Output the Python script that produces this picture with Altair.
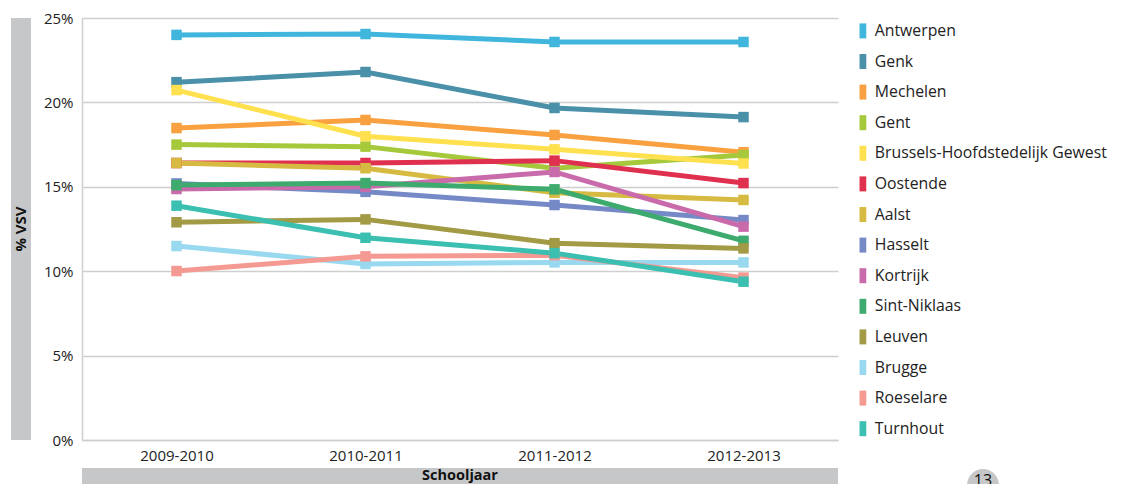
import altair as alt
import pandas as pd

years = ["2009-2010", "2010-2011", "2011-2012", "2012-2013"]
cities = ["Antwerpen", "Genk", "Mechelen", "Gent", "Brussels-Hoofdstedelijk Gewest",
          "Oostende", "Aalst", "Hasselt", "Kortrijk", "Sint-Niklaas", "Leuven",
          "Brugge", "Roeselare", "Turnhout"]
colors = ["#41B6DC", "#4A90A8", "#F9A040", "#A5C93A", "#FFE04F",
          "#E0304F", "#D6BA42", "#7489C6", "#C96BAB", "#3DAA6E", "#A39A45",
          "#98D9F0", "#F59A92", "#3ABFB0"]

antwerpen = [24.0, 24.05, 23.58, 23.58]
genk = [21.2, 21.8, 19.67, 19.13]
mechelen = [18.48, 18.96, 18.07, 17.05]
gent = [17.5, 17.38, 16.1, 16.88]
brussel = [20.73, 18.0, 17.22, 16.38]
oostende = [16.41, 16.41, 16.55, 15.22]
aalst = [16.41, 16.1, 14.65, 14.22]
hasselt = [15.2, 14.7, 13.92, 13.03]
kortrijk = [14.87, 15.0, 15.88, 12.64]
sintniklaas = [15.1, 15.22, 14.85, 11.8]
leuven = [12.9, 13.07, 11.66, 11.35]
brugge = [11.49, 10.43, 10.52, 10.52]
roeselare = [10.01, 10.88, 10.95, 9.62]
turnhout = [13.88, 11.98, 11.07, 9.38]

series = [antwerpen, genk, mechelen, gent, brussel, oostende, aalst, hasselt,
          kortrijk, sintniklaas, leuven, brugge, roeselare, turnhout]
y_ticks = [0, 5, 10, 15, 20, 25]

rows = []
for i, (c, vals) in enumerate(zip(cities, series)):
    for yr, v in zip(years, vals):
        rows.append({"Stad": c, "Schooljaar": yr, "VSV": v, "idx": i})
df = pd.DataFrame(rows)

W, H = 756, 422
FONT = "Open Sans"
GRAY = "#C6C7C9"

x_enc = alt.X("Schooljaar:O", sort=years,
              scale=alt.Scale(type="point", padding=0.5),
              axis=alt.Axis(title=None, labelAngle=0, labelFontSize=15, labelFont=FONT,
                            labelColor="#222", ticks=False, labelPadding=8,
                            domainColor="#cfcfcf", domainWidth=1.5))
y_enc = alt.Y("VSV:Q", scale=alt.Scale(domain=[0, 25], nice=False),
              axis=alt.Axis(title=None, values=y_ticks, labelExpr="datum.value + '%'",
                            labelFontSize=15, labelFont=FONT, labelColor="#222",
                            ticks=False, labelPadding=9, gridColor="#cfcfcf",
                            gridWidth=1.5, domainColor="#cfcfcf", domainWidth=1.5))
color_scale = alt.Scale(domain=cities, range=colors)
legend = alt.Legend(title=None, orient="none", legendX=773, legendY=5,
                    symbolType="M-0.45,-1L0.45,-1L0.45,1L-0.45,1Z",
                    symbolSize=225, symbolStrokeWidth=0, symbolOpacity=1,
                    labelFontSize=15.8, labelFont=FONT, labelColor="#222",
                    labelOffset=4, rowPadding=13.6, padding=0, labelLimit=400)

base = alt.Chart(df)
lines = base.mark_line(strokeWidth=5).encode(
    x=x_enc, y=y_enc,
    color=alt.Color("Stad:N", scale=color_scale, sort=cities, legend=legend),
    order=alt.Order("Schooljaar:O"),
)
points = base.mark_point(shape="square", filled=True, size=110, opacity=1).encode(
    x=x_enc, y=y_enc,
    color=alt.Color("Stad:N", scale=color_scale, sort=cities, legend=legend),
)

one = pd.DataFrame({"a": [0]})
ybar = alt.Chart(one).mark_rect(color=GRAY).encode(
    x=alt.value(-71), x2=alt.value(-51), y=alt.value(0), y2=alt.value(H))
ytitle = alt.Chart(pd.DataFrame({"t": ["% VSV"]})).mark_text(
    angle=270, font=FONT, fontSize=15, fontWeight="bold", color="#111",
    align="center", baseline="middle").encode(
    text="t:N", x=alt.value(-61), y=alt.value(H / 2))
xbar = alt.Chart(one).mark_rect(color=GRAY).encode(
    x=alt.value(0), x2=alt.value(W), y=alt.value(450), y2=alt.value(470))
xtitle = alt.Chart(pd.DataFrame({"t": ["Schooljaar"]})).mark_text(
    font=FONT, fontSize=14.5, fontWeight="bold", color="#111",
    align="center", baseline="middle").encode(
    text="t:N", x=alt.value(W / 2), y=alt.value(458))
circle = alt.Chart(one).mark_point(shape="circle", filled=True, color=GRAY, size=1018,
                                   opacity=1).encode(
    x=alt.value(901), y=alt.value(467))
pagenum = alt.Chart(pd.DataFrame({"t": ["13"]})).mark_text(
    font=FONT, fontSize=16, color="#111", align="center", baseline="top").encode(
    text="t:N", x=alt.value(901), y=alt.value(455))

chart = alt.layer(ybar, ytitle, xbar, xtitle, circle, pagenum, lines, points).properties(
    width=W, height=H,
    background="white",
    autosize=alt.AutoSizeParams(type="none"),
    padding={"left": 74, "top": 10, "right": 274, "bottom": 44},
).configure_view(stroke=None)

chart.save("out.html", embed_options={"renderer": "svg", "actions": False})
